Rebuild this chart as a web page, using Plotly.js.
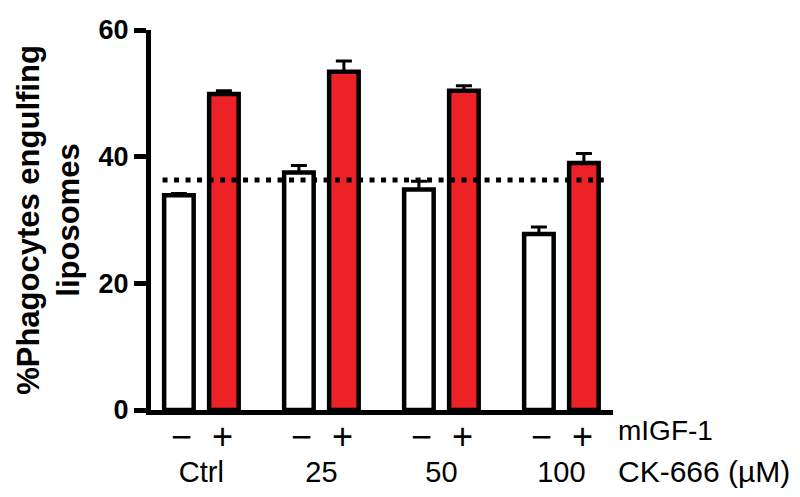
<!DOCTYPE html>
<html>
<head>
<meta charset="utf-8">
<script src="https://cdn.plot.ly/plotly-3.0.1.min.js"></script>
<style>html,body{margin:0;padding:0;background:#fff;}#chart{width:800px;height:497px;}</style>
</head>
<body>
<div id="chart"></div>
<script>
// Data
var groups = ["Ctrl", "25", "50", "100"];            // CK-666 (µM)
var withoutIGF = [33.9, 37.5, 34.8, 27.8];            // mIGF-1 "−"
var withoutIGFErr = [0.3, 1.1, 1.3, 1.1];
var withIGF = [49.9, 53.4, 50.4, 39.0];               // mIGF-1 "+"
var withIGFErr = [0.5, 1.7, 0.8, 1.5];
var refLevel = 36.3;                                   // dotted reference line
var yTicks = [0, 20, 40, 60];
var signLabels = ["\u2212", "+"];
var rowLabels = ["mIGF-1", "CK-666 (\u00b5M)"];

var FONT = "Liberation Sans, Arial, Helvetica, sans-serif";
var RED = "#ec2227";

var traces = [
  {
    type: "bar", x: groups, y: withoutIGF, name: "mIGF-1 \u2212",
    marker: {color: "#ffffff", line: {color: "#000", width: 4.5}},
    error_y: {type: "data", array: withoutIGFErr, arrayminus: withoutIGFErr.map(function(){return 0;}),
              symmetric: false, color: "#000", thickness: 3, width: 8}
  },
  {
    type: "bar", x: groups, y: withIGF, name: "mIGF-1 +",
    marker: {color: RED, line: {color: "#000", width: 4.5}},
    error_y: {type: "data", array: withIGFErr, arrayminus: withIGFErr.map(function(){return 0;}),
              symmetric: false, color: "#000", thickness: 3, width: 8}
  }
];

var annotations = [];
groups.forEach(function(g, i){
  signLabels.forEach(function(s, k){
    annotations.push({
      x: i, xref: "x", y: 0, yref: "paper", yanchor: "middle", xanchor: "center",
      xshift: k === 0 ? -20 : 21, yshift: -26, showarrow: false, text: s,
      font: {family: FONT, size: 36, color: "#000"}
    });
  });
});
rowLabels.forEach(function(t, k){
  annotations.push({
    x: 1, xref: "paper", xshift: 3, y: 0, yref: "paper", yanchor: "middle", xanchor: "left",
    yshift: k === 0 ? -20 : -61, showarrow: false, text: t,
    font: {family: FONT, size: k === 0 ? 28 : 30, color: "#000"}
  });
});

var layout = {
  width: 800, height: 497,
  margin: {l: 151, r: 187, t: 30, b: 87},
  paper_bgcolor: "#fff", plot_bgcolor: "#fff",
  showlegend: false,
  barmode: "group", bargap: 0.25, bargroupgap: 0.344,
  font: {family: FONT, color: "#000"},
  xaxis: {
    type: "category", range: [-0.42, 3.43],
    showline: true, linecolor: "#000", linewidth: 5,
    ticks: "", showgrid: false, zeroline: false,
    tickfont: {family: FONT, size: 29, color: "#000"},
    ticklabelstandoff: 32
  },
  yaxis: {
    range: [0, 60], tickvals: yTicks, ticktext: yTicks.map(String),
    showline: true, linecolor: "#000", linewidth: 5,
    ticks: "outside", ticklen: 12, tickwidth: 5, tickcolor: "#000",
    showgrid: false, zeroline: false,
    tickfont: {family: FONT, size: 27, color: "#000", weight: "bold"},
    title: {text: "%Phagocytes engulfing<br>liposomes", standoff: 11,
            font: {family: FONT, size: 31, color: "#000", weight: "bold"}}
  },
  shapes: [{
    type: "line", xref: "paper", x0: 0.025, x1: 0.98, yref: "y", y0: refLevel, y1: refLevel,
    line: {color: "#000", width: 5, dash: "5px,6.5px"}, layer: "above"
  }],
  annotations: annotations
};

Plotly.newPlot("chart", traces, layout, {displayModeBar: false, staticPlot: true});
</script>
</body>
</html>
